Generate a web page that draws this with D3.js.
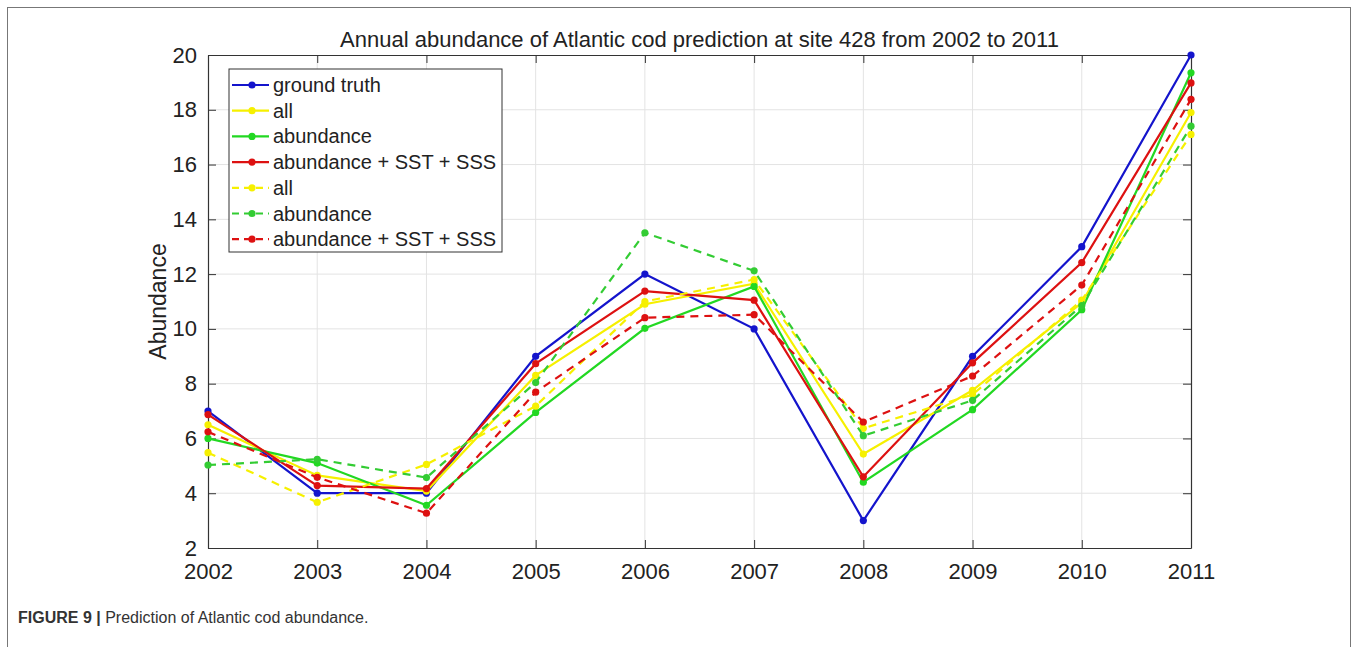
<!DOCTYPE html>
<html>
<head>
<meta charset="utf-8">
<script src="https://cdn.jsdelivr.net/npm/d3@7"></script>
<style>
  body { margin: 0; background: #fff; }
  svg { display: block; font-family: "Liberation Sans", Arial, sans-serif; }
</style>
</head>
<body>
<svg id="chart" width="1358" height="647"></svg>
<script>
const years = [2002, 2003, 2004, 2005, 2006, 2007, 2008, 2009, 2010, 2011]
const yTicks = [2, 4, 6, 8, 10, 12, 14, 16, 18, 20]

const groundTruth = [7, 4, 4, 9, 12, 10, 3, 9, 13, 20]
const allSolid = [6.5, 4.65, 4.08, 8.3, 10.9, 11.65, 5.43, 7.76, 10.95, 17.9]
const abundanceSolid = [6.0, 5.1, 3.56, 6.95, 10.02, 11.55, 4.4, 7.05, 10.7, 19.35]
const sstSssSolid = [6.87, 4.28, 4.17, 8.73, 11.38, 11.05, 4.6, 8.76, 12.42, 18.98]
const allDashed = [5.48, 3.67, 5.05, 7.18, 11.0, 11.8, 6.37, 7.6, 11.05, 17.1]
const abundanceDashed = [5.03, 5.24, 4.57, 8.04, 13.51, 12.12, 6.1, 7.39, 10.85, 17.4]
const sstSssDashed = [6.24, 4.58, 3.27, 7.69, 10.41, 10.52, 6.6, 8.28, 11.6, 18.38]

const series = [
  { name: 'ground truth', values: groundTruth, color: '#1414cc', dash: null },
  { name: 'all', values: allSolid, color: '#f6f000', dash: null },
  { name: 'abundance', values: abundanceSolid, color: '#22d822', dash: null },
  { name: 'abundance + SST + SSS', values: sstSssSolid, color: '#dd1111', dash: null },
  { name: 'all', values: allDashed, color: '#f6f000', dash: '8,6' },
  { name: 'abundance', values: abundanceDashed, color: '#33cc33', dash: '8,6' },
  { name: 'abundance + SST + SSS', values: sstSssDashed, color: '#dd1111', dash: '8,6' }
]

const svg = d3.select('#chart')

// figure frame
svg.append('rect')
  .attr('x', 7.5).attr('y', 7.5)
  .attr('width', 1343).attr('height', 660)
  .attr('fill', 'none').attr('stroke', '#777').attr('stroke-width', 1)

const m = { left: 208, right: 1191, top: 55, bottom: 548 }

const x = d3.scaleLinear().domain([2002, 2011]).range([m.left, m.right])
const y = d3.scaleLinear().domain([2, 20]).range([m.bottom, m.top])

// grid
const grid = svg.append('g')
grid.selectAll('line.gx')
  .data(years.slice(1, -1))
  .join('line')
  .attr('x1', d => x(d)).attr('x2', d => x(d))
  .attr('y1', m.top).attr('y2', m.bottom)
  .attr('stroke', '#e3e3e3').attr('stroke-width', 1)
grid.selectAll('line.gy')
  .data(yTicks.slice(1, -1))
  .join('line')
  .attr('x1', m.left).attr('x2', m.right)
  .attr('y1', d => y(d)).attr('y2', d => y(d))
  .attr('stroke', '#e3e3e3').attr('stroke-width', 1)

// axes
const xAxis = svg.append('g')
  .attr('transform', `translate(0,${m.bottom})`)
  .call(d3.axisBottom(x).tickValues(years).tickFormat(d3.format('d')).tickSizeInner(-8).tickSizeOuter(0).tickPadding(21))
const xAxisTop = svg.append('g')
  .attr('transform', `translate(0,${m.top})`)
  .call(d3.axisTop(x).tickValues(years).tickFormat('').tickSizeInner(-8).tickSizeOuter(0))
const yAxis = svg.append('g')
  .attr('transform', `translate(${m.left},0)`)
  .call(d3.axisLeft(y).tickValues(yTicks).tickSizeInner(-8).tickSizeOuter(0).tickPadding(11))
const yAxisRight = svg.append('g')
  .attr('transform', `translate(${m.right},0)`)
  .call(d3.axisRight(y).tickValues(yTicks).tickFormat('').tickSizeInner(-8).tickSizeOuter(0))

;[xAxis, xAxisTop, yAxis, yAxisRight].forEach(g => {
  g.select('.domain').attr('stroke', '#333').attr('stroke-width', 1.2)
  g.selectAll('.tick line').attr('stroke', '#333')
  g.selectAll('.tick text').attr('fill', '#222').style('font-size', '22px')
})
xAxis.selectAll('.tick text').attr('dy', '0.45em')

// labels
svg.append('text')
  .attr('x', (m.left + m.right) / 2).attr('y', 47)
  .attr('text-anchor', 'middle')
  .style('font-size', '22px').attr('fill', '#222')
  .text('Annual abundance of Atlantic cod prediction at site 428 from 2002 to 2011')

svg.append('text')
  .attr('transform', `translate(166,${(m.top + m.bottom) / 2}) rotate(-90)`)
  .attr('text-anchor', 'middle')
  .style('font-size', '23px').attr('fill', '#222')
  .text('Abundance')

// lines
const line = d3.line()
  .x((d, i) => x(years[i]))
  .y(d => y(d))

const plot = svg.append('g')
series.forEach(s => {
  plot.append('path')
    .datum(s.values)
    .attr('fill', 'none')
    .attr('stroke', s.color)
    .attr('stroke-width', 2.2)
    .attr('stroke-dasharray', s.dash)
    .attr('d', line)
  plot.selectAll(null)
    .data(s.values)
    .join('circle')
    .attr('cx', (d, i) => x(years[i]))
    .attr('cy', d => y(d))
    .attr('r', 3.6)
    .attr('fill', s.color)
})

// legend
const legend = svg.append('g').attr('transform', 'translate(229,69)')
legend.append('rect')
  .attr('width', 273).attr('height', 183)
  .attr('fill', '#fff').attr('stroke', '#333').attr('stroke-width', 1)

const rows = legend.selectAll('g.row')
  .data(series)
  .join('g')
  .attr('transform', (d, i) => `translate(0,${16 + i * 25.7})`)
rows.append('line')
  .attr('x1', 3).attr('x2', 40)
  .attr('stroke', d => d.color).attr('stroke-width', 2.2)
  .attr('stroke-dasharray', d => d.dash ? '7,5' : null)
rows.append('circle')
  .attr('cx', 23).attr('r', 3.6)
  .attr('fill', d => d.color)
rows.append('text')
  .attr('x', 44).attr('dy', '0.35em')
  .style('font-size', '20px').attr('fill', '#222')
  .text(d => d.name)

// caption
const caption = svg.append('text')
  .attr('x', 18).attr('y', 623)
  .style('font-size', '16px').attr('fill', '#333')
caption.append('tspan').attr('font-weight', 'bold').text('FIGURE 9 | ')
caption.append('tspan').text('Prediction of Atlantic cod abundance.')
</script>
</body>
</html>
